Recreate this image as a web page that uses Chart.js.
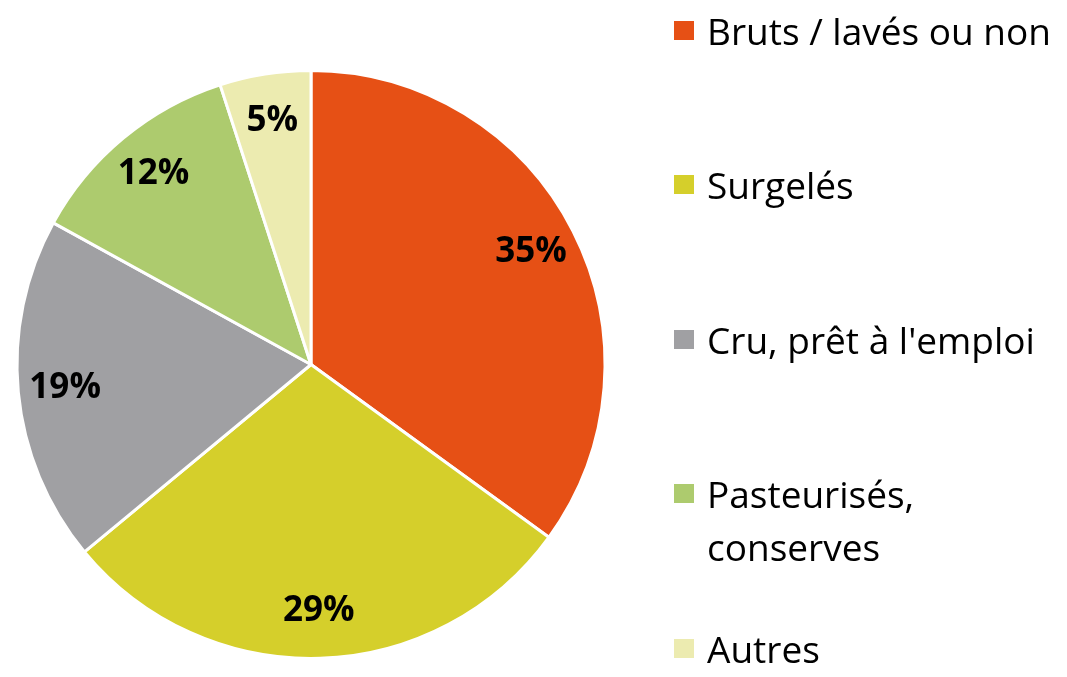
<!DOCTYPE html>
<html>
<head>
<meta charset="utf-8">
<script src="https://cdn.jsdelivr.net/npm/chart.js@4"></script>
<style>
  html, body { margin: 0; padding: 0; background: #fff; }
  #wrap { position: relative; width: 1067px; height: 677px; }
  #legend { position: absolute; left: 0; top: 0; }
  .item { position: absolute; left: 674px; font-family: 'Open Sans', sans-serif; font-size: 37px; line-height: 53px; color: #000; white-space: nowrap; }
  .box { position: absolute; left: 0; top: 17px; width: 20px; height: 19px; }
  .txt { position: absolute; left: 33px; top: 0; }
</style>
</head>
<body>
<div id="wrap">
  <canvas id="pie" width="1067" height="677"></canvas>
  <div id="legend"></div>
</div>
<script>
const labels = ['Bruts / lavés ou non', 'Surgelés', "Cru, prêt à l'emploi", 'Pasteurisés,\nconserves', 'Autres']
const values = [35, 29, 19, 12, 5]
const colors = ['#E65015', '#D5CF2B', '#A0A0A3', '#ADCB6E', '#ECEBB0']

// étiquettes de pourcentage dans les parts
const pctLabels = {
  id: 'pctLabels',
  afterDatasetsDraw(chart) {
    const ctx = chart.ctx
    const meta = chart.getDatasetMeta(0)
    ctx.save()
    ctx.font = "bold 35px 'Open Sans', sans-serif"
    ctx.fillStyle = '#000'
    ctx.textAlign = 'center'
    ctx.textBaseline = 'middle'
    meta.data.forEach((arc, i) => {
      const a = (arc.startAngle + arc.endAngle) / 2
      const r = arc.outerRadius * 0.84
      ctx.fillText(values[i] + '%', arc.x + Math.cos(a) * r, arc.y + Math.sin(a) * r)
    })
    ctx.restore()
  },
}

new Chart(document.getElementById('pie').getContext('2d'), {
  type: 'pie',
  data: {
    labels: labels,
    datasets: [
      {
        data: values,
        backgroundColor: colors,
        borderColor: '#fff',
        borderWidth: 3,
      },
    ],
  },
  options: {
    responsive: false,
    animation: false,
    layout: { padding: { left: 15, right: 460, top: 69, bottom: 17 } },
    plugins: {
      legend: { display: false },
      tooltip: { enabled: false },
    },
  },
  plugins: [pctLabels],
})

// légende à droite
const legend = document.getElementById('legend')
labels.forEach((lab, i) => {
  const item = document.createElement('div')
  item.className = 'item'
  item.style.top = (30 + i * 154.5 - 26.5) + 'px'
  const box = document.createElement('div')
  box.className = 'box'
  box.style.background = colors[i]
  const txt = document.createElement('div')
  txt.className = 'txt'
  txt.innerHTML = lab.replace('\n', '<br>')
  item.appendChild(box)
  item.appendChild(txt)
  legend.appendChild(item)
})
</script>
</body>
</html>
